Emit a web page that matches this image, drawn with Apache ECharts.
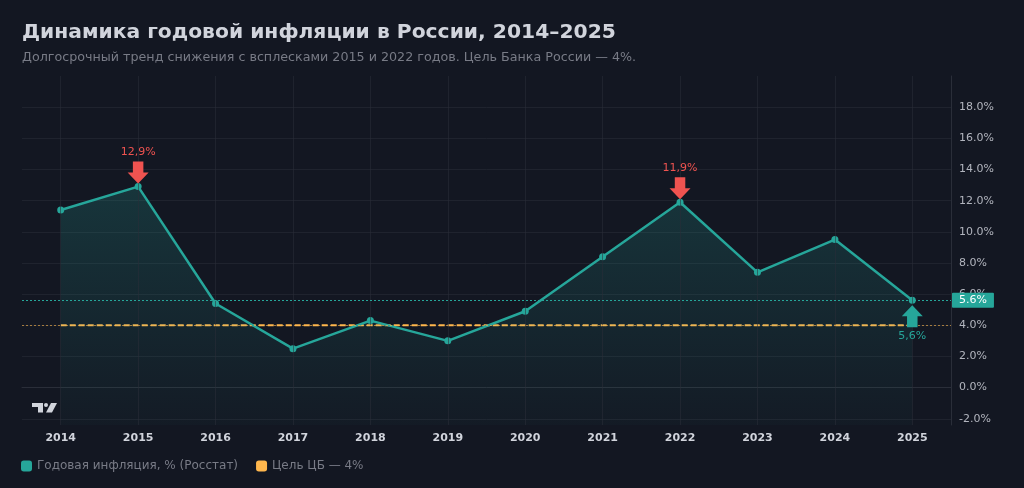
<!DOCTYPE html>
<html>
<head>
<meta charset="utf-8">
<script src="https://cdn.jsdelivr.net/npm/echarts@6/dist/echarts.min.js"></script>
<style>
  html, body { margin: 0; padding: 0; background: #131722; }
  #chart { width: 1024px; height: 488px; }
</style>
</head>
<body>
<div id="chart"></div>
<script>
// data
const years = ['2014', '2015', '2016', '2017', '2018', '2019', '2020', '2021', '2022', '2023', '2024', '2025'];
const inflation = [11.4, 12.9, 5.4, 2.5, 4.3, 3.0, 4.9, 8.4, 11.9, 7.4, 9.5, 5.6];
const cbTarget = [4, 4, 4, 4, 4, 4, 4, 4, 4, 4, 4, 4];
const yTicks = [-2, 0, 2, 4, 6, 8, 10, 12, 14, 16, 18];
const peakYears = ['2015', '2022'];
const lastYear = '2025';

const teal = '#26a69a';
const red = '#ef5350';
const orange = '#ffb74d';
const gridColor = 'rgba(42,46,57,0.55)';
const font = 'DejaVu Sans';

const arrowDown = 'path://M5,0 L15,0 L15,11 L20,11 L10,22 L0,11 L5,11 Z';
const arrowUp = 'path://M10,0 L20,11 L15,11 L15,22 L5,22 L5,11 L0,11 Z';

function fmtComma(v) {
  return v.toFixed(1).replace('.', ',') + '%';
}
function valueOf(year) {
  return inflation[years.indexOf(year)];
}

const markers = peakYears.map(function (y) {
  return {
    coord: [y, valueOf(y)],
    symbol: arrowDown,
    symbolSize: [21, 22],
    symbolOffset: [0, -14],
    itemStyle: { color: red },
    label: { show: true, position: 'top', distance: 4, color: red, fontSize: 11, fontFamily: font, formatter: fmtComma(valueOf(y)) }
  };
});
markers.push({
  coord: [lastYear, valueOf(lastYear)],
  symbol: arrowUp,
  symbolSize: [21, 22],
  symbolOffset: [0, 16],
  itemStyle: { color: teal },
  label: { show: true, position: 'bottom', distance: 3, color: teal, fontSize: 11, fontFamily: font, formatter: fmtComma(valueOf(lastYear)) }
});

const chart = echarts.init(document.getElementById('chart'));

const option = {
  backgroundColor: '#131722',
  animation: false,
  textStyle: { fontFamily: font },
  title: {
    text: 'Динамика годовой инфляции в России, 2014–2025',
    subtext: 'Долгосрочный тренд снижения с всплесками 2015 и 2022 годов. Цель Банка России — 4%.',
    left: 17,
    top: 18,
    itemGap: 8,
    textStyle: { color: '#d1d4dc', fontSize: 20.3, fontWeight: 'bold', fontFamily: font },
    subtextStyle: { color: '#787b86', fontSize: 12.7, fontFamily: font }
  },
  legend: {
    left: 16,
    top: 455,
    icon: 'roundRect',
    itemWidth: 11,
    itemHeight: 11,
    itemGap: 18,
    textStyle: { color: '#787b86', fontSize: 12, fontFamily: font },
    data: ['Годовая инфляция, % (Росстат)', 'Цель ЦБ — 4%']
  },
  grid: { left: 22, right: 73, top: 76, bottom: 63 },
  xAxis: {
    type: 'category',
    data: years,
    boundaryGap: true,
    axisLine: { show: true, lineStyle: { color: '#2a2e39' } },
    axisTick: { show: false },
    splitLine: { show: false },
    axisLabel: { color: '#d1d4dc', fontSize: 11, fontWeight: 'bold', fontFamily: font, margin: 8 }
  },
  yAxis: {
    type: 'value',
    position: 'right',
    min: -2.4,
    max: 20,
    axisLine: { show: true, lineStyle: { color: '#2a2e39' } },
    axisTick: { show: false, customValues: yTicks },
    splitLine: { show: true, lineStyle: { color: gridColor, width: 1 } },
    axisLabel: {
      customValues: yTicks,
      color: '#b2b5be',
      fontSize: 11,
      fontFamily: font,
      margin: 8,
      formatter: function (v) { return v.toFixed(1) + '%'; }
    }
  },
  series: [
    {
      name: 'grid-v',
      type: 'line',
      data: [],
      silent: true,
      markLine: {
        silent: true,
        symbol: 'none',
        label: { show: false },
        lineStyle: { color: gridColor, type: 'solid', width: 1 },
        data: years.map(function (y) { return { xAxis: y }; })
      },
      z: 0
    },
    {
      name: 'Годовая инфляция, % (Росстат)',
      type: 'line',
      data: inflation,
      symbol: 'circle',
      symbolSize: 7,
      showAllSymbol: true,
      lineStyle: { color: teal, width: 2.5 },
      itemStyle: { color: teal, borderWidth: 0 },
      areaStyle: {
        origin: 'start',
        color: new echarts.graphic.LinearGradient(0, 0, 0, 1, [
          { offset: 0, color: 'rgba(38,166,154,0.3)' },
          { offset: 1, color: 'rgba(38,166,154,0.04)' }
        ])
      },
      markLine: {
        silent: true,
        symbol: 'none',
        lineStyle: { color: teal, type: [2, 2], width: 1 },
        label: {
          show: true,
          position: 'end',
          distance: 1,
          formatter: valueOf(lastYear).toFixed(1) + '%',
          backgroundColor: teal,
          color: '#ffffff',
          fontSize: 11,
          fontFamily: font,
          padding: [2, 7, 2, 7],
          borderRadius: 1
        },
        data: [{ yAxis: valueOf(lastYear) }]
      },
      markPoint: { data: markers },
      z: 3
    },
    {
      name: 'Цель ЦБ — 4%',
      type: 'line',
      data: cbTarget,
      symbol: 'none',
      lineStyle: { color: orange, width: 2, type: [6, 3] },
      itemStyle: { color: orange },
      markLine: {
        silent: true,
        symbol: 'none',
        label: { show: false },
        lineStyle: { color: orange, type: [2, 2], width: 1, opacity: 0.6 },
        data: [{ yAxis: 4 }]
      },
      z: 2
    }
  ],
  graphic: [
    {
      type: 'group',
      left: 32,
      top: 403,
      silent: true,
      children: [
        { type: 'polygon', shape: { points: [[0, 0], [11, 0], [11, 9.5], [6, 9.5], [6, 4], [0, 4]] }, style: { fill: '#d1d4dc' } },
        { type: 'circle', shape: { cx: 14, cy: 2, r: 2 }, style: { fill: '#d1d4dc' } },
        { type: 'polygon', shape: { points: [[19, 0], [25, 0], [20, 9.5], [14, 9.5]] }, style: { fill: '#d1d4dc' } }
      ]
    }
  ]
};

chart.setOption(option);
</script>
</body>
</html>
